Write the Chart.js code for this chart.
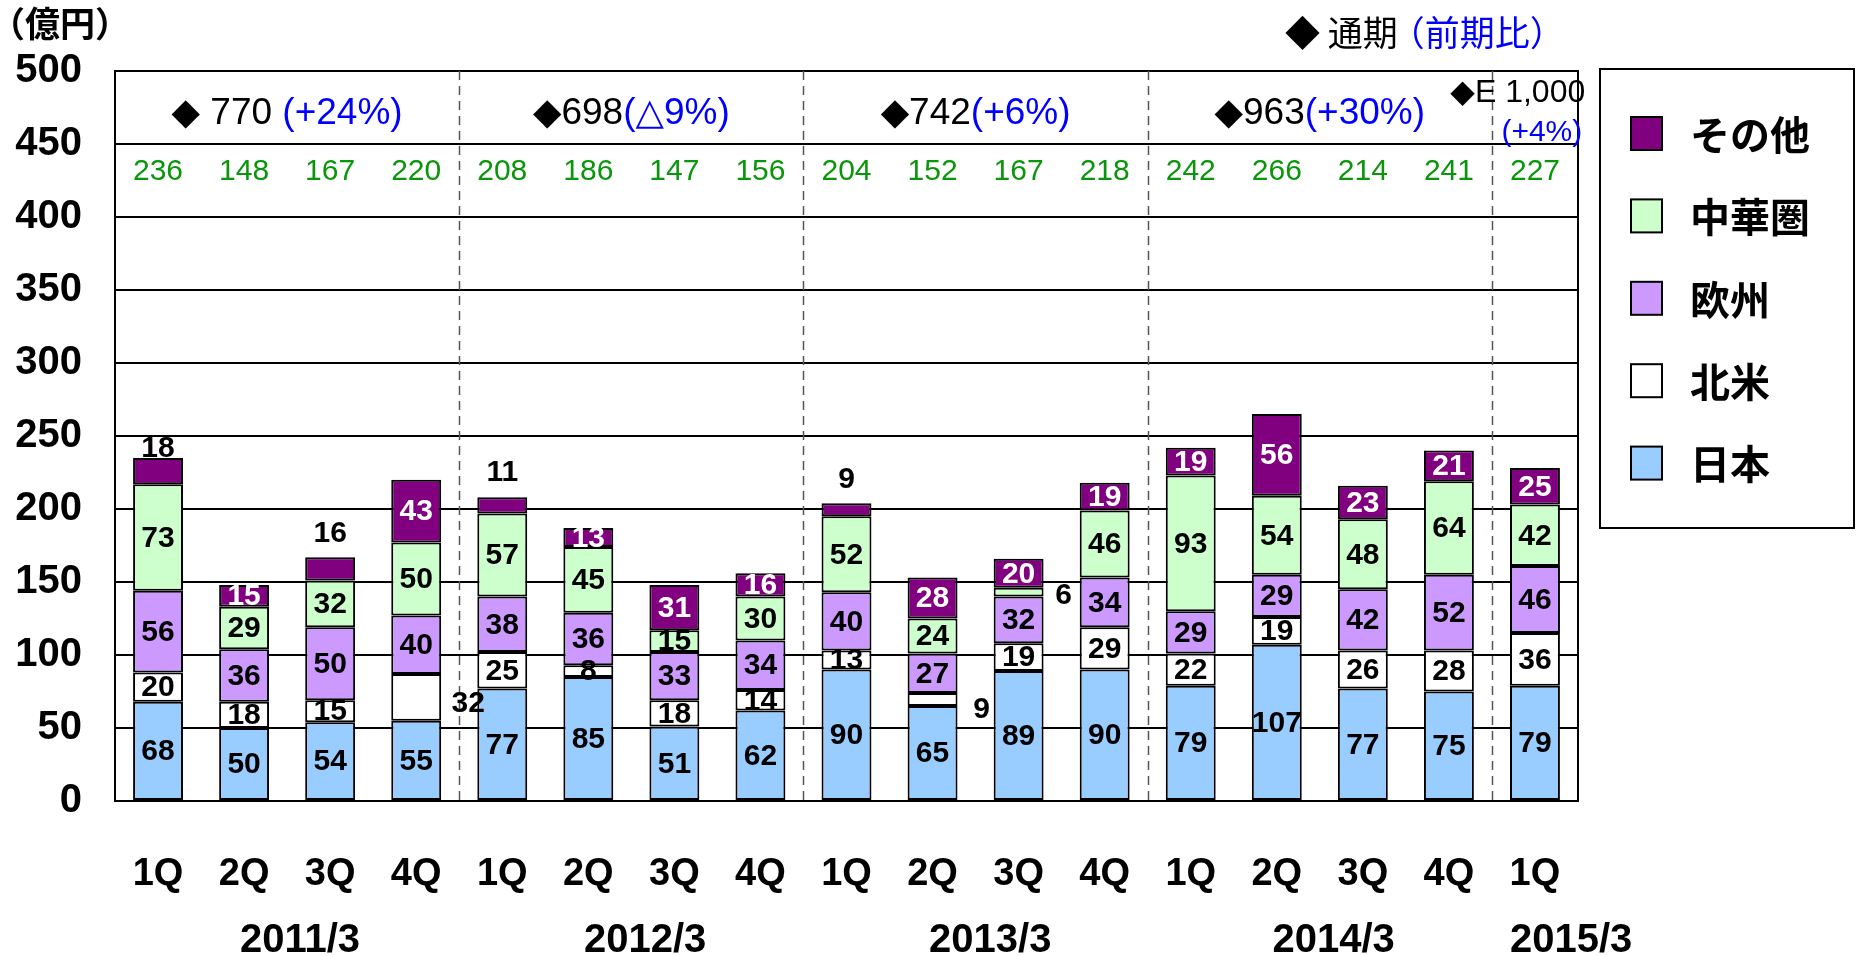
<!DOCTYPE html>
<html><head><meta charset="utf-8">
<script src="https://cdn.jsdelivr.net/npm/chart.js@4.4.1/dist/chart.umd.min.js"></script>
<style>html,body{margin:0;padding:0;background:#fff;}#wrap{width:1856px;height:956px;position:relative;}</style>
</head><body><div id="wrap"><canvas id="c"></canvas></div>
<script>
// ---- data ----
const quarterLabels = ['1Q','2Q','3Q','4Q','1Q','2Q','3Q','4Q','1Q','2Q','3Q','4Q','1Q','2Q','3Q','4Q','1Q'];
const yearLabels = ['2011/3','2012/3','2013/3','2014/3','2015/3'];
const yearGroups = [[0,3],[4,7],[8,11],[12,15],[16,16]];
const seriesNames = ['日本','北米','欧州','中華圏','その他'];
const japan        = [68,50,54,55,77,85,51,62,90,65,89,90,79,107,77,75,79];
const northAmerica = [20,18,15,32,25,8,18,14,13,9,19,29,22,19,26,28,36];
const europe       = [56,36,50,40,38,36,33,34,40,27,32,34,29,29,42,52,46];
const greaterChina = [73,29,32,50,57,45,15,30,52,24,6,46,93,54,48,64,42];
const others       = [18,15,16,43,11,13,31,16,9,28,20,19,19,56,23,21,25];
const quarterTotals = [236,148,167,220,208,186,147,156,204,152,167,218,242,266,214,241,227];
const annualTotals = ['◆ 770 ','◆698','◆742','◆963'];
const annualChange = ['(+24%)','(△9%)','(+6%)','(+30%)'];
const forecastTotal = '◆E 1,000';
const forecastChange = '(+4%)';
const unitLabel = '（億円）';
const annualNote = ['◆ 通期', '（前期比）'];

// ---- style / layout config ----
const seriesColors = ['#99CCFF','#FFFFFF','#CC99FF','#CCFFCC','#800080'];
const LATIN = "'Liberation Sans', Arial, 'DejaVu Sans', sans-serif";
const CJK = "'Noto Sans CJK JP', 'Liberation Sans', sans-serif";
const yearShift = [0.15,0.16,0.17,0.16,0.42];
const labelPlacement = {
  '4:0': {pos:'above', dy: 10}, '4:2': {pos:'above', dy: 24}, '4:4': {pos:'above', dy: 26}, '4:8': {pos:'above', dy: 24},
  '1:3': {pos:'right', dx: 27, dy: 5}, '3:10': {pos:'right', dx: 20, dy: 3}, '1:9': {pos:'right', dx: 24, dy: 9}
};

const seriesData = [japan, northAmerica, europe, greaterChina, others];
const datasets = seriesData.map((arr, d) => ({
  label: seriesNames[d],
  data: arr.map((v, i) => ({x: i, y: v})),
  backgroundColor: seriesColors[d],
  borderColor: '#000', borderWidth: 2, borderSkipped: false,
  barPercentage: 0.58, categoryPercentage: 1
}));

const deco = {
  id: 'deco',
  beforeDatasetsDraw(chart) {
    const {ctx, chartArea: a, scales: {x}} = chart;
    ctx.save();
    ctx.strokeStyle = '#555'; ctx.lineWidth = 1.5; ctx.setLineDash([9,6]);
    yearGroups.slice(0, -1).forEach(g => {
      const px = Math.round(x.getPixelForValue(g[1] + 0.5)) + 0.5;
      ctx.beginPath(); ctx.moveTo(px, a.top); ctx.lineTo(px, a.bottom); ctx.stroke();
    });
    ctx.setLineDash([]);
    ctx.strokeStyle = '#000'; ctx.lineWidth = 2;
    ctx.beginPath(); ctx.moveTo(a.right, a.top - 1); ctx.lineTo(a.right, a.bottom + 1); ctx.stroke();
    ctx.restore();
  },
  afterDatasetsDraw(chart) {
    const {ctx, scales: {x, y}} = chart;
    ctx.save();
    ctx.textAlign = 'center'; ctx.textBaseline = 'middle';
    ctx.font = 'bold 30px ' + LATIN;
    chart.data.datasets.forEach((ds, d) => {
      const meta = chart.getDatasetMeta(d);
      meta.data.forEach((el, i) => {
        const v = seriesData[d][i];
        const p = labelPlacement[d + ':' + i];
        let tx = el.x, ty = (el.y + el.base) / 2, col = d === 4 ? '#fff' : '#000';
        if (p && p.pos === 'above') { ty = el.y - p.dy; col = '#000'; }
        if (p && p.pos === 'right') { tx = el.x + el.width / 2 + p.dx; ty = ty + p.dy; col = '#000'; }
        ctx.fillStyle = col;
        ctx.fillText(String(v), tx, ty + 1);
      });
    });
    // quarter totals
    ctx.font = '30px ' + LATIN; ctx.fillStyle = '#0a960a';
    quarterTotals.forEach((t, i) => ctx.fillText(String(t), x.getPixelForValue(i), y.getPixelForValue(431)));
    // annual totals
    const mixed = (a, b, cx, cy, font) => {
      ctx.font = font;
      const wa = ctx.measureText(a).width, wb = ctx.measureText(b).width;
      const sx = cx - (wa + wb) / 2;
      ctx.textAlign = 'left';
      ctx.fillStyle = '#000'; ctx.fillText(a, sx, cy);
      ctx.fillStyle = '#0000ff'; ctx.fillText(b, sx + wa, cy);
      ctx.textAlign = 'center';
    };
    annualTotals.forEach((t, k) => {
      const g = yearGroups[k];
      mixed(t, annualChange[k], x.getPixelForValue((g[0] + g[1]) / 2), y.getPixelForValue(470.8), '37px ' + LATIN);
    });
    ctx.font = '32px ' + LATIN; ctx.fillStyle = '#000';
    ctx.fillText(forecastTotal, x.getPixelForValue(15.80), y.getPixelForValue(485));
    ctx.font = '30px ' + LATIN; ctx.fillStyle = '#0000ff';
    ctx.fillText(forecastChange, x.getPixelForValue(16.08), y.getPixelForValue(457.5));
    ctx.restore();
  },
  afterDraw(chart) {
    const {ctx} = chart;
    ctx.save();
    ctx.textBaseline = 'middle'; ctx.textAlign = 'left';
    ctx.font = 'bold 35px ' + CJK; ctx.fillStyle = '#000';
    ctx.fillText(unitLabel, -10, 24);
    ctx.font = '35px ' + CJK;
    const w0 = ctx.measureText(annualNote[0]).width;
    ctx.fillText(annualNote[0], 1285, 33);
    ctx.fillStyle = '#0000ff'; ctx.fillText(annualNote[1], 1285 + w0 - 8, 33);
    // legend
    ctx.strokeStyle = '#000'; ctx.lineWidth = 2;
    ctx.strokeRect(1600, 69, 254, 459);
    ctx.font = 'bold 40px ' + CJK;
    const order = [4,3,2,1,0];
    order.forEach((d, k) => {
      const cy = 133.5 + k * 82.4;
      ctx.fillStyle = chart.data.datasets[d].backgroundColor;
      ctx.fillRect(1631, cy - 16.5, 31, 33);
      ctx.strokeRect(1631, cy - 16.5, 31, 33);
      ctx.fillStyle = '#000';
      ctx.fillText(chart.data.datasets[d].label, 1690, cy + 1);
    });
    ctx.restore();
  }
};

new Chart(document.getElementById('c'), {
  type: 'bar',
  data: { datasets },
  options: {
    responsive: true, maintainAspectRatio: false, animation: false,
    layout: { padding: { top: 71, right: 278, left: 0, bottom: 0 } },
    plugins: { legend: { display: false }, tooltip: { enabled: false } },
    scales: {
      x: {
        type: 'linear', stacked: true, offset: false, min: -0.5, max: 16.5, position: 'bottom', weight: 1,
        afterBuildTicks: s => { s.ticks = quarterLabels.map((_, i) => ({value: i})); },
        afterFit: s => { s.height = 100; },
        grid: { display: false, offset: false },
        border: { display: true, color: '#000', width: 2 },
        ticks: { autoSkip: false, maxRotation: 0, padding: 43, color: '#000',
          font: { family: LATIN, size: 38, weight: 'bold' },
          callback: (v, i) => quarterLabels[i] }
      },
      xYear: {
        type: 'linear', offset: false, min: -0.5, max: 16.5, position: 'bottom', weight: 2,
        afterBuildTicks: s => { s.ticks = yearGroups.map((g, k) => ({value: (g[0] + g[1]) / 2 + yearShift[k]})); },
        afterFit: s => { s.height = 55; },
        grid: { display: false, offset: false }, border: { display: false },
        ticks: { autoSkip: false, maxRotation: 0, padding: 8, color: '#000',
          font: { family: LATIN, size: 40, weight: 'bold' },
          callback: (v, i) => yearLabels[i] }
      },
      y: {
        stacked: true, min: 0, max: 500,
        afterFit: s => { s.width = 115; },
        grid: { color: '#000', lineWidth: 2, drawTicks: false },
        border: { display: true, color: '#000', width: 2 },
        ticks: { stepSize: 50, padding: 33, color: '#000', font: { family: LATIN, size: 40, weight: 'bold' } }
      }
    }
  },
  plugins: [deco]
});
</script></body></html>
